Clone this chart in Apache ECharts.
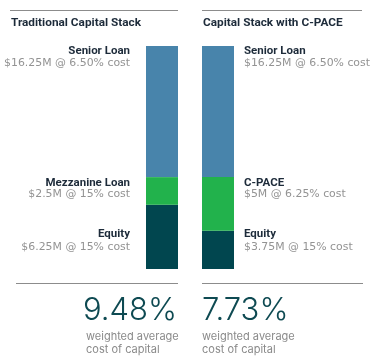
<!DOCTYPE html>
<html><head><meta charset="utf-8">
<script src="https://cdn.jsdelivr.net/npm/echarts@6/dist/echarts.min.js"></script>
<style>html,body{margin:0;padding:0;background:#fff}#c{width:391px;height:361px}</style>
</head><body><div id="c"></div>
<script>
// Stacks (drawn heights, in $M-equivalent units)
const stacks = ['Traditional Capital Stack', 'Capital Stack with C-PACE'];
const equity = [7.2, 4.3];
const middle = [3.1, 6.0];
const senior = [14.7, 14.7];
// Texts
const leftNames = ['Senior Loan', 'Mezzanine Loan', 'Equity'];
const leftDetails = ['$16.25M @ 6.50% cost', '$2.5M @ 15% cost', '$6.25M @ 15% cost'];
const rightNames = ['Senior Loan', 'C-PACE', 'Equity'];
const rightDetails = ['$16.25M @ 6.50% cost', '$5M @ 6.25% cost', '$3.75M @ 15% cost'];
const wacc = ['9.48%', '7.73%'];
const waccCaption = ['weighted average', 'cost of capital'];

const C_SENIOR = '#4884ab', C_GREEN = '#22b24c', C_EQ = '#01464f';
const nameStyle = { fontFamily: 'Roboto', fontWeight: 'bold', fontSize: 11.5, fill: '#1d2b3a' };
const detStyle = { fontFamily: 'DejaVu Sans', fontSize: 10.9, fill: '#939393' };
const nameY = [51, 183, 234];
const detY = [63, 194, 247];

const graphics = [
  { type: 'line', shape: { x1: 10, y1: 10.5, x2: 178, y2: 10.5 }, style: { stroke: '#8c8c8c', lineWidth: 1 } },
  { type: 'line', shape: { x1: 202, y1: 10.5, x2: 362, y2: 10.5 }, style: { stroke: '#8c8c8c', lineWidth: 1 } },
  { type: 'line', shape: { x1: 16, y1: 283.5, x2: 178, y2: 283.5 }, style: { stroke: '#8c8c8c', lineWidth: 1 } },
  { type: 'line', shape: { x1: 202, y1: 283.5, x2: 363, y2: 283.5 }, style: { stroke: '#8c8c8c', lineWidth: 1 } },
  { type: 'text', x: 11, y: 23, style: { text: stacks[0], fontFamily: 'Roboto', fontWeight: 'bold', fontSize: 11.8, fill: '#1d2b3a', verticalAlign: 'middle' } },
  { type: 'text', x: 203, y: 23, style: { text: stacks[1], fontFamily: 'Roboto', fontWeight: 'bold', fontSize: 11.8, fill: '#1d2b3a', verticalAlign: 'middle' } }
];
for (let i = 0; i < 3; i++) {
  graphics.push({ type: 'text', x: 130, y: nameY[i], style: Object.assign({ text: leftNames[i], align: 'right', verticalAlign: 'middle' }, nameStyle) });
  graphics.push({ type: 'text', x: 130, y: detY[i], style: Object.assign({ text: leftDetails[i], align: 'right', verticalAlign: 'middle' }, detStyle) });
  graphics.push({ type: 'text', x: 244, y: nameY[i], style: Object.assign({ text: rightNames[i], align: 'left', verticalAlign: 'middle' }, nameStyle) });
  graphics.push({ type: 'text', x: 244, y: detY[i], style: Object.assign({ text: rightDetails[i], align: 'left', verticalAlign: 'middle' }, detStyle) });
}
graphics.push({ type: 'text', x: 177, y: 311, style: { text: wacc[0], align: 'right', verticalAlign: 'middle', fontFamily: 'Inter', fontWeight: 300, fontSize: 31, fill: '#0e4a52' } });
graphics.push({ type: 'text', x: 202, y: 311, style: { text: wacc[1], align: 'left', verticalAlign: 'middle', fontFamily: 'Inter', fontWeight: 300, fontSize: 31, fill: '#0e4a52' } });
[86, 202].forEach(x => {
  graphics.push({ type: 'text', x: x, y: 337, style: { text: waccCaption[0], verticalAlign: 'middle', fontFamily: 'Inter', fontSize: 11, fill: '#8a8a8a' } });
  graphics.push({ type: 'text', x: x, y: 350, style: { text: waccCaption[1], verticalAlign: 'middle', fontFamily: 'Inter', fontSize: 11, fill: '#8a8a8a' } });
});

const chart = echarts.init(document.getElementById('c'), null, { renderer: 'canvas' });
chart.setOption({
  animation: false,
  grid: { left: 134, width: 112, top: 46, height: 223 },
  xAxis: { type: 'category', data: stacks, show: false },
  yAxis: { type: 'value', min: 0, max: 25, show: false },
  series: [
    { type: 'bar', stack: 's', barWidth: 32, data: equity, itemStyle: { color: C_EQ } },
    { type: 'bar', stack: 's', barWidth: 32, data: middle, itemStyle: { color: C_GREEN } },
    { type: 'bar', stack: 's', barWidth: 32, data: senior, itemStyle: { color: C_SENIOR } }
  ],
  graphic: graphics
});
</script></body></html>
